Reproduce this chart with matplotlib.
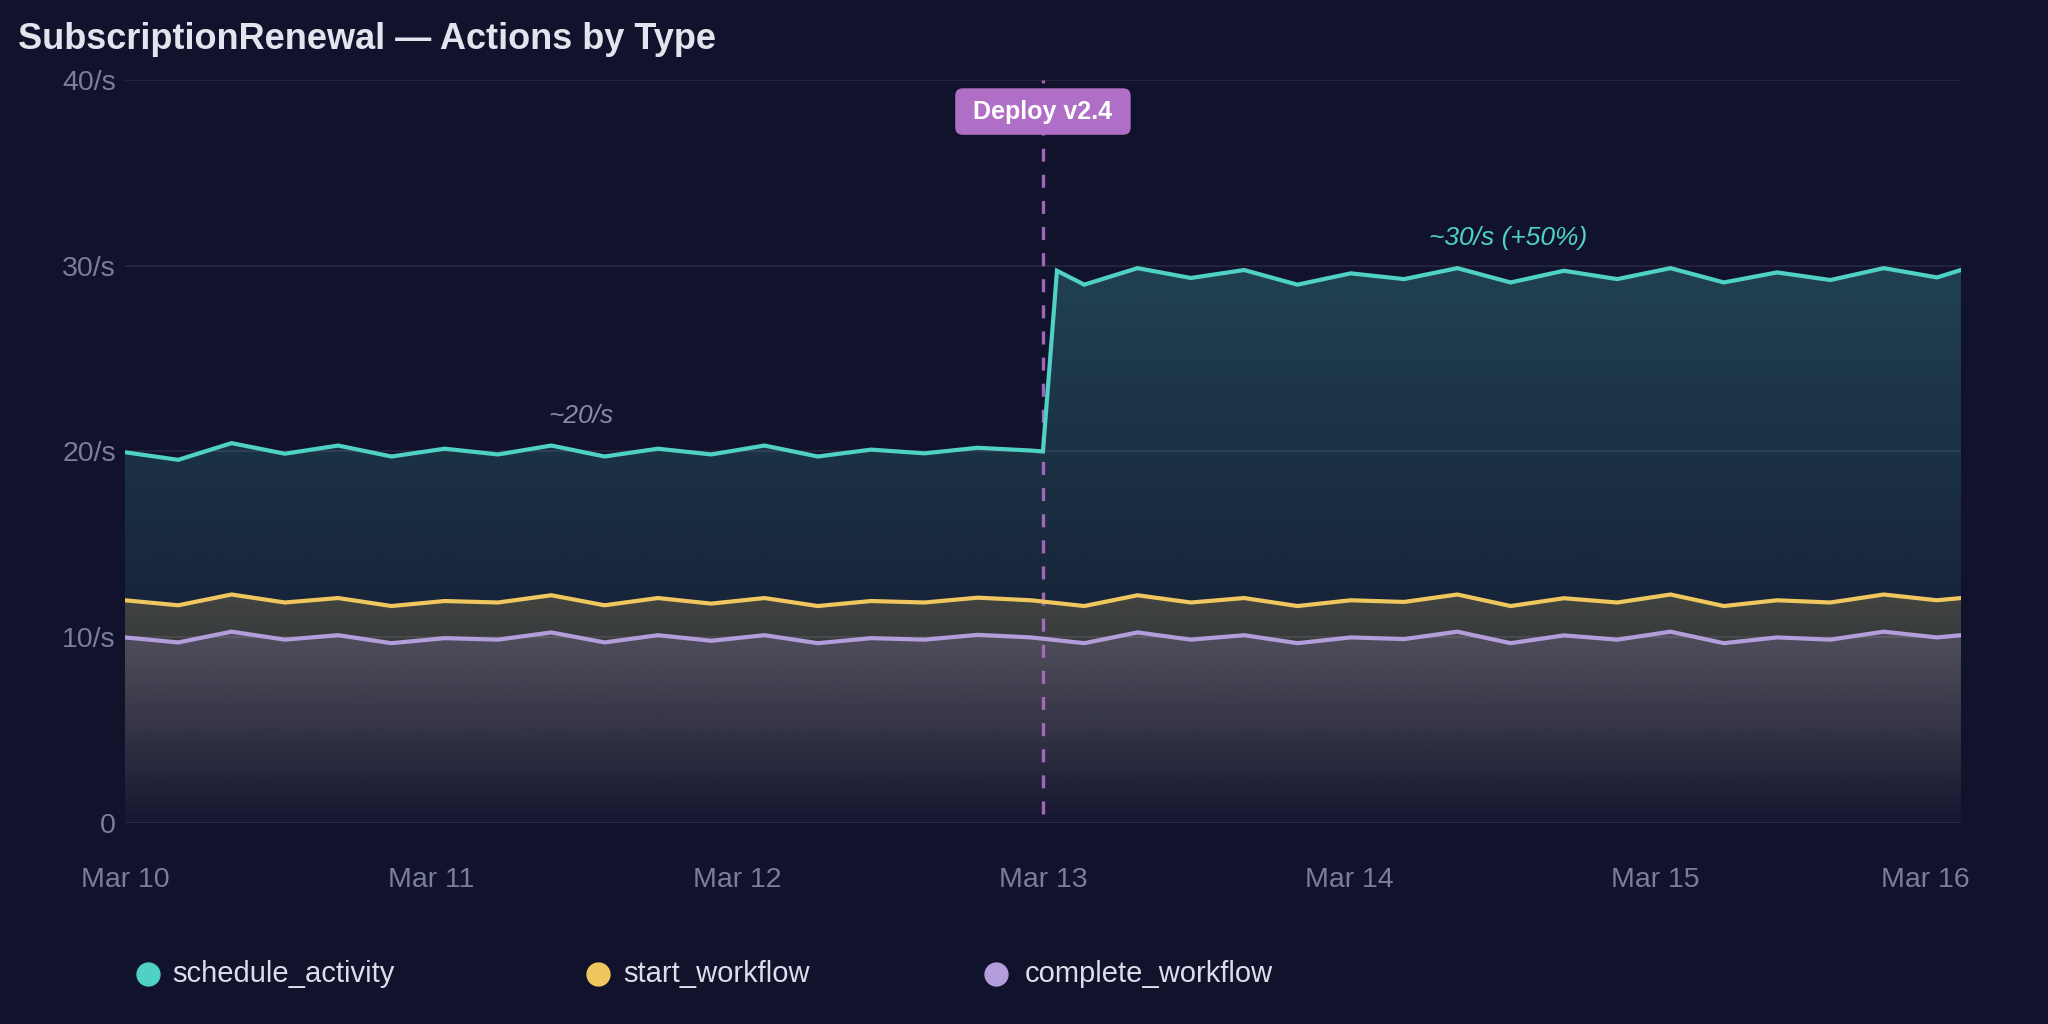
import numpy as np
import matplotlib
matplotlib.use("Agg")
import matplotlib.pyplot as plt
import matplotlib.colors as mcolors
import matplotlib.transforms as mtransforms
from matplotlib.lines import Line2D

plt.rcParams["font.family"] = ["Liberation Sans", "DejaVu Sans"]
plt.rcParams["lines.scale_dashes"] = False

BG = "#11122b"
TEAL = "#4fd1c5"
YELLOW = "#f0c75e"
PURPLE = "#b39ddb"
DEPLOY = "#b06fc6"

# hours since Mar 10 00:00
hours = [0, 4.18, 8.36, 12.54, 16.72, 20.9, 25.08, 29.26, 33.44, 37.62, 41.8, 45.98,
         50.16, 54.34, 58.52, 62.7, 66.88, 71.06, 75.24, 79.42, 83.6, 87.78, 91.96,
         96.14, 100.32, 104.5, 108.68, 112.86, 117.04, 121.22, 125.4, 129.58, 133.76,
         137.94, 142.12, 144]

start_workflow = [11.99, 11.72, 12.30, 11.87, 12.11, 11.68, 11.95, 11.87, 12.26, 11.72,
                  12.11, 11.81, 12.11, 11.68, 11.95, 11.87, 12.13, 11.99,
                  11.68, 12.26, 11.87, 12.11, 11.68, 11.99, 11.90, 12.30, 11.68, 12.10,
                  11.87, 12.30, 11.68, 11.99, 11.87, 12.30, 11.99, 12.11]

complete_workflow = [9.99, 9.72, 10.30, 9.87, 10.11, 9.68, 9.95, 9.87, 10.26, 9.72,
                     10.11, 9.81, 10.11, 9.68, 9.95, 9.87, 10.13, 9.99,
                     9.68, 10.26, 9.87, 10.11, 9.68, 9.99, 9.90, 10.30, 9.68, 10.10,
                     9.87, 10.30, 9.68, 9.99, 9.87, 10.30, 9.99, 10.11]

# schedule_activity has two extra samples around the deploy
schedule_hours = [0, 4.18, 8.36, 12.54, 16.72, 20.9, 25.08, 29.26, 33.44, 37.62, 41.8,
                  45.98, 50.16, 54.34, 58.52, 62.7, 66.88, 71.06, 72.0, 73.1, 75.24,
                  79.42, 83.6, 87.78, 91.96, 96.14, 100.32, 104.5, 108.68, 112.86,
                  117.04, 121.22, 125.4, 129.58, 133.76, 137.94, 142.12, 144]
schedule_activity = [19.96, 19.55, 20.45, 19.88, 20.32, 19.73, 20.15, 19.84, 20.32, 19.73,
                     20.15, 19.84, 20.32, 19.73, 20.10, 19.90, 20.20, 20.05,
                     20.0, 29.73,
                     28.98, 29.87, 29.34, 29.77, 28.98, 29.59, 29.28, 29.87, 29.10, 29.73,
                     29.28, 29.87, 29.10, 29.64, 29.23, 29.87, 29.37, 29.77]

day_ticks = [0, 24, 48, 72, 96, 120, 144]
day_labels = ["Mar 10", "Mar 11", "Mar 12", "Mar 13", "Mar 14", "Mar 15", "Mar 16"]
y_ticks = [0, 10, 20, 30, 40]
y_labels = ["0", "10/s", "20/s", "30/s", "40/s"]
deploy_at = 72.0

series = [
    ("schedule_activity", schedule_hours, schedule_activity, TEAL, 30.0, 0.25, 0.0),
    ("start_workflow", hours, start_workflow, YELLOW, 12.3, 0.20, 0.0),
    ("complete_workflow", hours, complete_workflow, PURPLE, 10.3, 0.19, 0.04),
]


def gradient_area(ax, x, y, color, ytop, a_top, a_bot, z):
    x = np.asarray(x)
    y = np.asarray(y)
    poly = ax.fill_between(x, 0, y, color="none", lw=0)
    rgba = np.zeros((256, 1, 4))
    rgba[..., :3] = mcolors.to_rgb(color)
    rgba[..., 3] = np.linspace(a_top, a_bot, 256)[:, None]
    im = ax.imshow(rgba, extent=(x.min(), x.max(), 0, ytop), origin="upper",
                   aspect="auto", zorder=z, interpolation="bilinear")
    im.set_clip_path(poly.get_paths()[0], transform=ax.transData)


fig = plt.figure(figsize=(20.48, 10.24), dpi=100, facecolor=BG)
ax = fig.add_axes([0.0610, 0.1963, 0.8965, 0.7256])
ax.set_facecolor(BG)

for i, (name, x, y, c, ytop, at, ab) in enumerate(series):
    gradient_area(ax, x, y, c, ytop, at, ab, 1 + i * 0.1)
for i, (name, x, y, c, ytop, at, ab) in enumerate(series):
    ax.plot(x, y, color=c, lw=3.0, zorder=3 + i * 0.1, solid_joinstyle="miter")

# deploy marker
ax.plot([deploy_at, deploy_at], [0.5, 40], color=DEPLOY, lw=2.4, dashes=(9.4, 9.4),
        zorder=2.5, alpha=0.9)
ax.text(deploy_at, 38.3, " Deploy v2.4 ", ha="center", va="center", fontsize=18,
        fontweight="bold", color="white", zorder=6,
        bbox=dict(boxstyle="round,pad=0.45,rounding_size=0.3", fc=DEPLOY, ec="none"))

ax.text(35.8, 21.9, "~20/s", ha="center", va="center", fontsize=19, style="italic",
        color="#8a89a8", zorder=6)
ax.text(108.5, 31.47, "~30/s (+50%)", ha="center", va="center", fontsize=19,
        style="italic", color=TEAL, zorder=6)

ax.set_xlim(0, 144)
ax.set_ylim(0, 40)
ax.set_yticks(y_ticks)
ax.set_yticklabels(y_labels)
ax.set_xticks(day_ticks)
ax.set_xticklabels(day_labels)
ax.tick_params(axis="both", length=0, labelsize=20.5, labelcolor="#7b7d9d")
ax.tick_params(axis="y", pad=6.5)
ax.tick_params(axis="x", pad=32)
last = ax.get_xticklabels()[-1]
last.set_ha("right")
last.set_transform(last.get_transform() + mtransforms.ScaledTranslation(9 / 100, 0, fig.dpi_scale_trans))
ax.yaxis.grid(True, color="white", alpha=0.08, lw=1.4)
ax.xaxis.grid(False)
ax.set_axisbelow("line")
for s in ax.spines.values():
    s.set_visible(False)

fig.text(18 / 2048, 1 - 22 / 1024, "SubscriptionRenewal \u2014 Actions by Type", ha="left",
         va="top", fontsize=26, fontweight="bold", color="#e4e4ef")

# legend
leg_y = 1 - 974 / 1024
for (name, x, y, c, *_), cx, tx in zip(series, [148, 598, 996], [172, 623, 1025]):
    fig.add_artist(Line2D([cx / 2048], [leg_y], marker="o", markersize=16.5, color=c,
                          transform=fig.transFigure, lw=0))
    fig.text(tx / 2048, leg_y, name, ha="left", va="center", fontsize=21, color="#dcdcea")

fig.savefig("out.png", dpi=100, facecolor=BG)
